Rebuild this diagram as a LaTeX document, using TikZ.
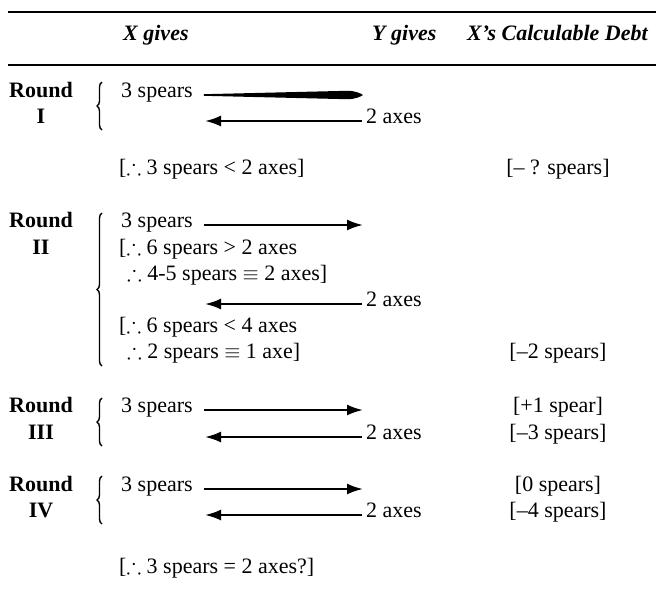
\documentclass[tikz,border=0pt]{standalone}
\usepackage{amssymb}
\usepackage{fontspec}
\setmainfont{Liberation Serif}
\usetikzlibrary{arrows.meta,decorations.pathreplacing,calc}
\newcommand{\thf}{\ensuremath{\therefore}}
\begin{document}
\begin{tikzpicture}[x=1pt,y=-1pt,
  txt/.style={font=\fontsize{22}{26}\selectfont, inner sep=0pt, anchor=mid west},
  dbt/.style={font=\fontsize{22}{26}\selectfont, inner sep=0pt, anchor=mid},
  hdr/.style={font=\fontsize{22}{26}\selectfont\bfseries\itshape, inner sep=0pt, anchor=mid west},
  rnd/.style={font=\fontsize{22}{26}\selectfont\bfseries, inner sep=0pt, anchor=mid},
  arr/.style={line width=2.2pt, -{Latex[length=16pt,width=11pt]}},
  brc/.style={decorate, decoration={brace, amplitude=5pt}, line width=1.4pt},
  hrule/.style={line width=2pt}]
\useasboundingbox (0,0) rectangle (656,595);
% rules
\coordinate (tl) at (8,12); \coordinate (tr) at (656,12);
\coordinate (ml) at (8,65); \coordinate (mr) at (656,65);
\draw[hrule] (tl) -- (tr);
\draw[hrule] (ml) -- (mr);
% header
\node[hdr] (hX) at (123,38) {X gives};
\node[hdr] (hY) at (372,38) {Y gives};
\node[hdr] (hD) at (467,38) {X's Calculable Debt};
% ---------- Round I
\node[rnd] (r1a) at (41,95) {Round};
\node[rnd] (r1b) at (41,121) {I};
\draw[brc] (102,130) -- (102,82);
\node[txt] (s1) at (121,95) {3 spears};
\node[txt] (a1) at (366,121) {2 axes};
\coordinate (p1) at (363,95);
\coordinate (q1) at (205,121);
\fill ($(s1.mid east)+(11,-0.8)$) -- ($(p1)+(-16,-4.2)$)
  .. controls ($(p1)+(-8,-4.2)$) and ($(p1)+(-3,-2)$) .. (p1)
  .. controls ($(p1)+(-3,2)$) and ($(p1)+(-8,4.2)$) .. ($(p1)+(-16,4.2)$)
  -- ($(s1.mid east)+(11,0.8)$) -- cycle;
\draw[arr] ($(a1.mid west)+(-4,0)$) -- (q1);
\node[txt] (t1) at (119,172) {[\thf{} 3 spears < 2 axes]};
\node[dbt] (d1) at (558,172) {[– ? spears]};
% ---------- Round II
\node[rnd] (r2a) at (41,225) {Round};
\node[rnd] (r2b) at (41,252) {II};
\draw[brc] (102,366) -- (102,213);
\node[txt] (s2) at (121,225) {3 spears};
\coordinate (p2) at (363,225);
\draw[arr] ($(s2.mid east)+(11,0)$) -- (p2);
\node[txt] (t2a) at (119,252) {[\thf{} 6 spears > 2 axes};
\node[txt] (t2b) at (127,278) {\thf{} 4-5 spears \ensuremath{\equiv} 2 axes]};
\node[txt] (a2) at (366,304) {2 axes};
\coordinate (q2) at (205,304);
\draw[arr] ($(a2.mid west)+(-4,0)$) -- (q2);
\node[txt] (t2c) at (119,330) {[\thf{} 6 spears < 4 axes};
\node[txt] (t2d) at (127,356) {\thf{} 2 spears \ensuremath{\equiv} 1 axe]};
\node[dbt] (d2) at (558,356) {[–2 spears]};
% ---------- Round III
\node[rnd] (r3a) at (41,410) {Round};
\node[rnd] (r3b) at (41,437) {III};
\draw[brc] (102,446) -- (102,398);
\node[txt] (s3) at (121,410) {3 spears};
\coordinate (p3) at (363,410);
\draw[arr] ($(s3.mid east)+(11,0)$) -- (p3);
\node[txt] (a3) at (366,437) {2 axes};
\coordinate (q3) at (205,437);
\draw[arr] ($(a3.mid west)+(-4,0)$) -- (q3);
\node[dbt] (d3a) at (558,410) {[+1 spear]};
\node[dbt] (d3b) at (558,437) {[–3 spears]};
% ---------- Round IV
\node[rnd] (r4a) at (41,489) {Round};
\node[rnd] (r4b) at (41,515) {IV};
\draw[brc] (102,524) -- (102,476);
\node[txt] (s4) at (121,489) {3 spears};
\coordinate (p4) at (363,489);
\draw[arr] ($(s4.mid east)+(11,0)$) -- (p4);
\node[txt] (a4) at (366,515) {2 axes};
\coordinate (q4) at (205,515);
\draw[arr] ($(a4.mid west)+(-4,0)$) -- (q4);
\node[dbt] (d4a) at (558,489) {[0 spears]};
\node[dbt] (d4b) at (558,515) {[–4 spears]};
% final
\node[txt] (t5) at (119,571) {[\thf{} 3 spears = 2 axes?]};
\end{tikzpicture}
\end{document}
